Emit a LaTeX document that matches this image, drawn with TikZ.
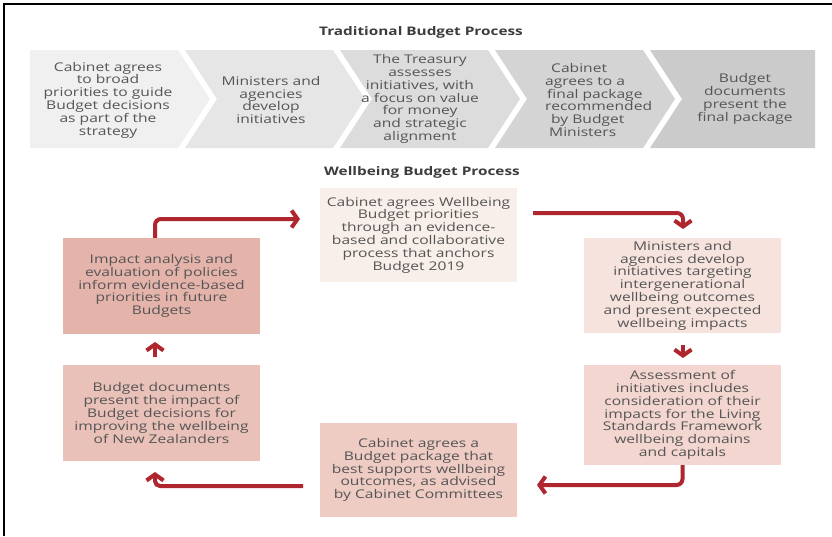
\documentclass[tikz,border=0pt]{standalone}
\usepackage{fontspec}
\setmainfont{Open Sans}[FakeStretch=1.3]
\usetikzlibrary{arrows.meta}

\definecolor{chevA}{HTML}{F0F0F0}
\definecolor{chevB}{HTML}{E6E6E6}
\definecolor{chevC}{HTML}{DCDCDC}
\definecolor{chevD}{HTML}{D4D4D4}
\definecolor{chevE}{HTML}{CBCBCB}
\definecolor{boxA}{HTML}{F8EEEA}
\definecolor{boxB}{HTML}{F6E3DE}
\definecolor{boxC}{HTML}{F2D6CF}
\definecolor{boxD}{HTML}{EECBC3}
\definecolor{boxE}{HTML}{E9C1B8}
\definecolor{boxF}{HTML}{E4B3AA}
\definecolor{txtgrey}{HTML}{555555}
\definecolor{headgrey}{HTML}{3C3C3C}
\definecolor{flowred}{HTML}{B0262F}

\newcommand{\bodyfont}{\fontsize{12}{12.8}\selectfont}

\begin{document}
\begin{tikzpicture}[x=1pt,y=-1pt,
  steptext/.style={text=txtgrey, align=center, font=\bodyfont, inner sep=0pt},
  heading/.style={text=headgrey, font=\fontsize{11.8}{13}\selectfont\bfseries, inner sep=0pt},
  wbox/.style={minimum width=197pt, inner sep=0pt, align=center, text=txtgrey, font=\bodyfont},
  flow/.style={draw=flowred, line width=4pt, rounded corners=6pt,
    -{Straight Barb[length=6pt,width=17pt]}}
]
\useasboundingbox (0,0) rectangle (832,536);
\fill[white] (0,0) rectangle (832,536);

% frame lines
\draw[line width=1.5pt] (832,4) -- (4,4) -- (4,536);

% ---------------- traditional process ----------------
\node[heading] (trad) at (421,32) {Traditional Budget Process};

\fill[chevA] (30,50) -- (178,50) -- (210,99) -- (178,148) -- (30,148) -- cycle;
\fill[chevB] (185,50) -- (333,50) -- (365,99) -- (333,148) -- (185,148) -- (217,99) -- cycle;
\fill[chevC] (340,50) -- (488,50) -- (520,99) -- (488,148) -- (340,148) -- (372,99) -- cycle;
\fill[chevD] (495,50) -- (643,50) -- (675,99) -- (643,148) -- (495,148) -- (527,99) -- cycle;
\fill[chevE] (650,50) -- (815,50) -- (815,148) -- (650,148) -- (682,99) -- cycle;

\node[steptext] (s1) at (108,100) {Cabinet agrees\\to broad\\priorities to guide\\Budget decisions\\as part of the\\strategy};
\node[steptext] (s2) at (271,100) {Ministers and\\agencies\\develop\\initiatives};
\node[steptext] (s3) at (420,99) {The Treasury\\assesses\\initiatives, with\\a focus on value\\for money\\and strategic\\alignment};
\node[steptext, align=left, anchor=west] (s4) at (545,100) {\hspace*{6pt}Cabinet\\agrees to a\\\hspace*{2pt}final package\\recommended\\\hspace*{6pt}by Budget\\\hspace*{4pt}Ministers};
\node[steptext] (s5) at (745,99) {Budget\\documents\\present the\\final package};

% ---------------- wellbeing process ----------------
\node[heading] (wb) at (422,172) {Wellbeing Budget Process};

\node[wbox, fill=boxA, minimum height=94pt] (b1) at (418.5,235) {Cabinet agrees Wellbeing\\Budget priorities\\through an evidence-\\based and collaborative\\process that anchors\\Budget 2019};
\node[wbox, fill=boxB, minimum height=95pt] (b2) at (682.5,285.5) {Ministers and\\agencies develop\\initiatives targeting\\intergenerational\\wellbeing outcomes\\and present expected\\wellbeing impacts};
\node[wbox, fill=boxC, minimum height=100pt] (b3) at (682.5,415) {Assessment of\\initiatives includes\\consideration of their\\impacts for the Living\\Standards Framework\\wellbeing domains\\and capitals};
\node[wbox, fill=boxD, minimum height=94pt] (b4) at (418.5,470) {Cabinet agrees a\\Budget package that\\best supports wellbeing\\outcomes, as advised\\by Cabinet Committees};
\node[wbox, fill=boxE, minimum height=96pt] (b5) at (161.5,413) {Budget documents\\present the impact of\\Budget decisions for\\improving the wellbeing\\of New Zealanders};
\node[wbox, fill=boxF, minimum height=96pt] (b6) at (161.5,286) {Impact analysis and\\evaluation of policies\\inform evidence-based\\priorities in future\\Budgets};

% arrow end points
\coordinate (e61) at (300,219);
\coordinate (s12) at (533,213);
\coordinate (e12) at (683,229);
\coordinate (s23) at (683,345);
\coordinate (e23) at (683,358);
\coordinate (e34) at (537,485);
\coordinate (s45) at (303,486);
\coordinate (e45) at (155,472);
\coordinate (s56) at (155,357);
\coordinate (e56) at (155,342);

\draw[flow] (b6.north -| e56) |- (e61);
\draw[flow] (s12) -| (e12);
\draw[flow] (s23) -- (e23);
\draw[flow] (b3.south) |- (e34);
\draw[flow, rounded corners=5pt] (s45) -| (e45);
\draw[flow] (s56) -- (e56);
\end{tikzpicture}
\end{document}
